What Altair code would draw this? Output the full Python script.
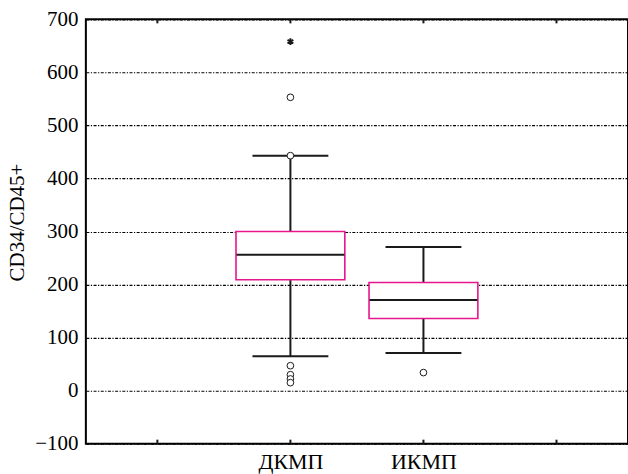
import json
import altair as alt
import pandas as pd

# ---- data ----
slots = ["", "ДКМП", "ИКМП", ""]          # category slots along the x axis
groups = ["ДКМП", "ИКМП"]
whisker_low = [65, 71]
q1 = [209, 136]
median = [256, 171]
q3 = [300, 204]
whisker_high = [443, 271]
outlier_group = ["ДКМП", "ДКМП", "ДКМП", "ДКМП", "ДКМП", "ДКМП", "ИКМП"]
outlier_value = [553, 443, 47, 30, 22, 15, 34]
extreme_group = ["ДКМП"]
extreme_value = [658]
y_ticks = [-100, 0, 100, 200, 300, 400, 500, 600, 700]

pos_of = {g: slots.index(g) + 1 for g in groups}
slot_pos = list(range(1, len(slots) + 1))

df_box = pd.DataFrame({
    "group": groups,
    "pos": [pos_of[g] for g in groups],
    "lo": whisker_low, "q1": q1, "med": median, "q3": q3, "hi": whisker_high,
})
df_out = pd.DataFrame({"pos": [pos_of[g] for g in outlier_group], "value": outlier_value})
df_ext = pd.DataFrame({"pos": [pos_of[g] for g in extreme_group], "value": extreme_value})
df_slots = pd.DataFrame({"pos": slot_pos})

FONT = "Times New Roman, Liberation Serif, Times, serif"
INK = "#1a1a1a"
MAGENTA = "#E6168C"
W, H = 543, 425

label_expr = "%s[datum.value - 1]" % json.dumps(slots, ensure_ascii=False)

x_enc = alt.X(
    "pos:Q",
    scale=alt.Scale(domain=[0.5, len(slots) + 0.5], nice=False, zero=False),
    axis=alt.Axis(values=slot_pos, labelExpr=label_expr, ticks=False, domain=False,
                  grid=False, labelFont=FONT, labelFontSize=22, labelColor="black",
                  labelPadding=8, title=None),
)
y_scale = alt.Scale(domain=[-100, 700], nice=False, zero=False)
y_axis = alt.Axis(values=y_ticks, grid=True, gridColor="black", gridWidth=1.2,
                  gridDash=[3, 1.5, 1.2, 1.5], ticks=False, domain=False,
                  labelFont=FONT, labelFontSize=21, labelColor="black", labelPadding=8,
                  title="CD34/CD45+", titleFont=FONT, titleFontSize=21,
                  titleFontWeight="normal", titleColor="black", titlePadding=7,
                  titleY=203)

def Y(field):
    return alt.Y(field, type="quantitative", scale=y_scale, axis=y_axis)

base = alt.Chart(df_box)

whisk_up = base.mark_rule(color=INK, strokeWidth=2).encode(x=x_enc, y=Y("q3"), y2="hi")
whisk_dn = base.mark_rule(color=INK, strokeWidth=2).encode(x=x_enc, y=Y("lo"), y2="q1")
cap_hi = base.mark_tick(orient="horizontal", size=76, thickness=2, color=INK, opacity=1).encode(x=x_enc, y=Y("hi"))
cap_lo = base.mark_tick(orient="horizontal", size=76, thickness=2, color=INK, opacity=1).encode(x=x_enc, y=Y("lo"))
box = base.mark_bar(size=109, fill="white", stroke=MAGENTA, strokeWidth=1.6).encode(x=x_enc, y=Y("q1"), y2="q3")
med = base.mark_tick(orient="horizontal", size=108, thickness=2, color=INK, opacity=1).encode(x=x_enc, y=Y("med"))

outl = alt.Chart(df_out).mark_point(shape="circle", size=45, fill="white", fillOpacity=1,
                                    stroke=INK, strokeWidth=1, opacity=1).encode(x=x_enc, y=Y("value"))
asterisk = "M0,-1L0,1M-0.87,-0.5L0.87,0.5M-0.87,0.5L0.87,-0.5"
ext = alt.Chart(df_ext).mark_point(shape=asterisk, size=45, stroke=INK, strokeWidth=2,
                                   filled=False, opacity=1).encode(x=x_enc, y=Y("value"))

tick_bot = alt.Chart(df_slots).mark_rule(color=INK, strokeWidth=2).encode(
    x=x_enc, y=alt.value(H), y2=alt.value(H - 4))
tick_top = alt.Chart(df_slots).mark_rule(color=INK, strokeWidth=2).encode(
    x=x_enc, y=alt.value(0), y2=alt.value(4))

chart = alt.layer(whisk_up, whisk_dn, cap_hi, cap_lo, box, med, outl, ext, tick_bot, tick_top).properties(
    width=W, height=H,
    autosize=alt.AutoSizeParams(type="none"),
    padding={"left": 86, "top": 19, "right": 0, "bottom": 474 - 19 - H},
    background="white",
).configure_view(stroke="black", strokeWidth=2)

chart.save("out.html", embed_options={"renderer": "svg", "actions": False})
